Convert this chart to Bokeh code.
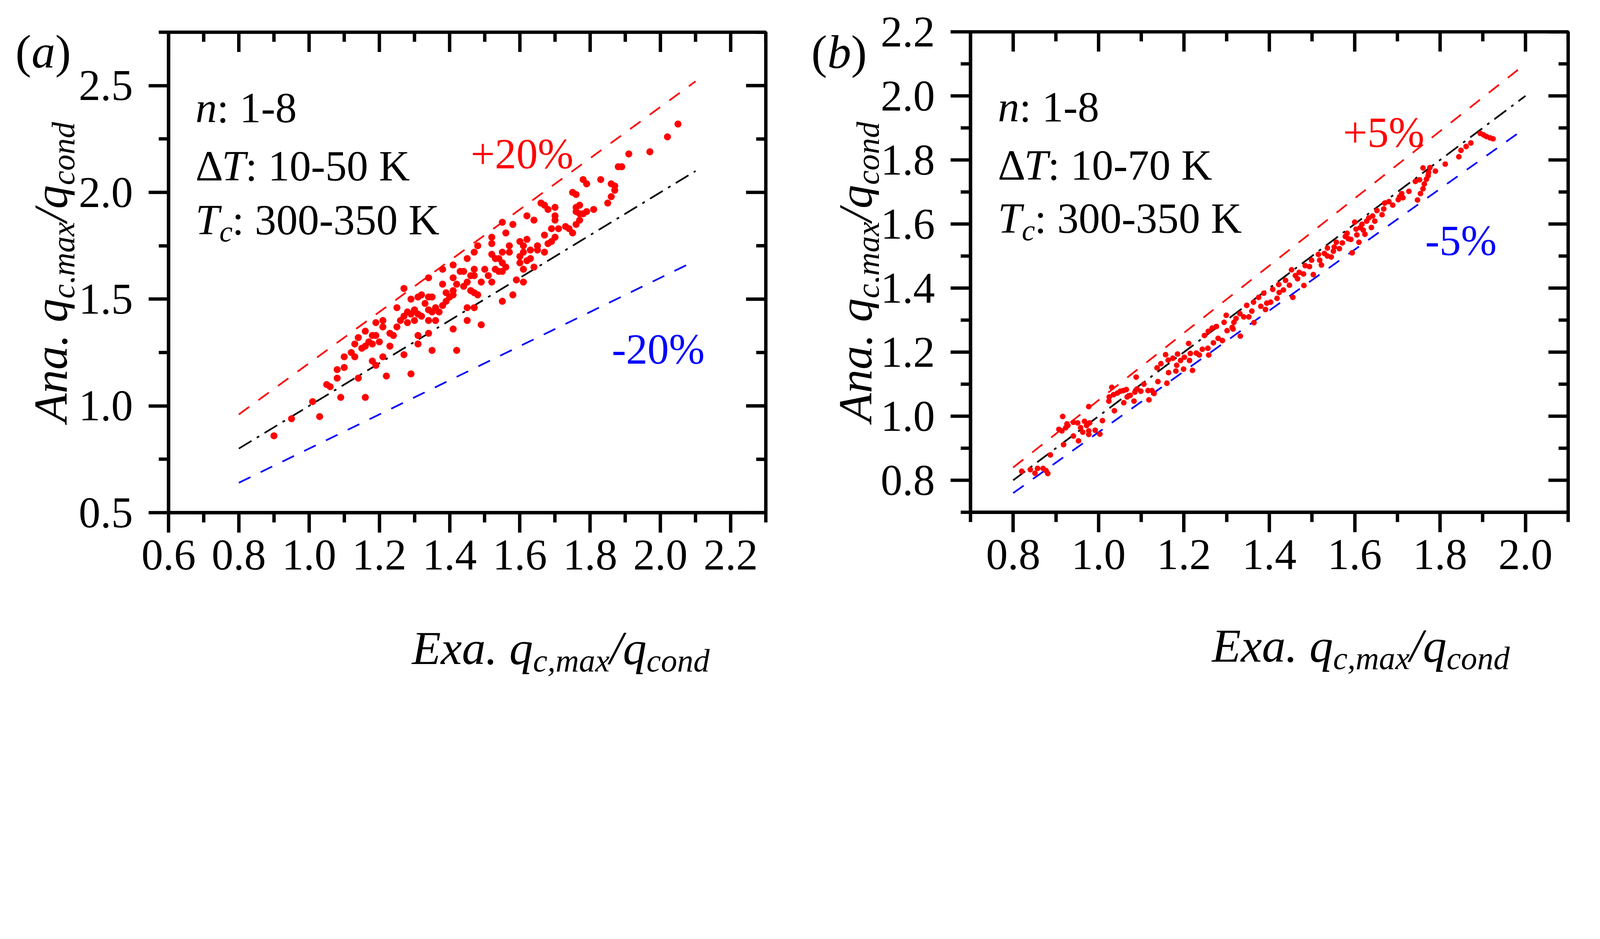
import math
from bokeh.plotting import figure
from bokeh.models import Label, FixedTicker, PrintfTickFormatter, Range1d
from bokeh.layouts import row, column
from bokeh.embed import file_html
from bokeh.resources import INLINE

FONT = "Liberation Serif"

# ---------------- data: panel (a) ----------------
a_exa = [0.90, 0.95, 1.03, 1.01, 1.09, 1.16, 1.05, 1.06, 1.08, 1.08,
         1.10, 1.14, 1.10, 1.12, 1.13, 1.13, 1.15, 1.14, 1.16, 1.18,
         1.19, 1.17, 1.18, 1.20, 1.16, 1.19, 1.21, 1.21, 1.23, 1.23,
         1.24, 1.18, 1.21, 1.19, 1.22, 1.27, 1.29, 1.31, 1.31, 1.34,
         1.35, 1.42, 1.25, 1.25, 1.27, 1.29, 1.26, 1.28, 1.29, 1.30,
         1.31, 1.30, 1.28, 1.27, 1.31, 1.32, 1.34, 1.35, 1.33, 1.34,
         1.35, 1.36, 1.34, 1.32, 1.34, 1.38, 1.41, 1.41, 1.38, 1.39,
         1.41, 1.41, 1.40, 1.39, 1.38, 1.37, 1.36, 1.41, 1.45, 1.45,
         1.47, 1.49, 1.42, 1.43, 1.44, 1.46, 1.47, 1.47, 1.45, 1.44,
         1.46, 1.47, 1.48, 1.50, 1.49, 1.52, 1.51, 1.53, 1.54, 1.55,
         1.53, 1.52, 1.45, 1.47, 1.48, 1.52, 1.52, 1.55, 1.58, 1.56,
         1.57, 1.57, 1.55, 1.54, 1.55, 1.56, 1.55, 1.58, 1.59, 1.61,
         1.60, 1.62, 1.61, 1.61, 1.60, 1.62, 1.63, 1.63, 1.65, 1.65,
         1.67, 1.62, 1.64, 1.60, 1.61, 1.64, 1.67, 1.68, 1.69, 1.70,
         1.70, 1.70, 1.69, 1.66, 1.67, 1.68, 1.70, 1.71, 1.73, 1.74,
         1.75, 1.76, 1.76, 1.77, 1.77, 1.78, 1.79, 1.76, 1.77, 1.75,
         1.76, 1.78, 1.79, 1.81, 1.83, 1.85, 1.86, 1.86, 1.87, 1.87,
         1.88, 1.89, 1.91, 1.97, 2.02, 2.05]
a_ana = [0.86, 0.94, 0.95, 1.02, 1.04, 1.04, 1.10, 1.09, 1.13, 1.17,
         1.18, 1.13, 1.23, 1.25, 1.23, 1.29, 1.27, 1.32, 1.35, 1.33,
         1.33, 1.30, 1.29, 1.30, 1.28, 1.39, 1.40, 1.37, 1.28, 1.34,
         1.33, 1.21, 1.23, 1.19, 1.14, 1.24, 1.15, 1.29, 1.33, 1.34,
         1.26, 1.26, 1.37, 1.46, 1.55, 1.50, 1.40, 1.44, 1.43, 1.45,
         1.43, 1.40, 1.39, 1.42, 1.51, 1.52, 1.51, 1.51, 1.48, 1.45,
         1.44, 1.40, 1.40, 1.42, 1.60, 1.64, 1.66, 1.60, 1.57, 1.53,
         1.54, 1.52, 1.51, 1.49, 1.47, 1.44, 1.46, 1.36, 1.40, 1.46,
         1.46, 1.38, 1.57, 1.63, 1.63, 1.61, 1.64, 1.61, 1.58, 1.56,
         1.54, 1.53, 1.52, 1.64, 1.58, 1.58, 1.61, 1.64, 1.63, 1.63,
         1.69, 1.71, 1.69, 1.72, 1.75, 1.76, 1.79, 1.86, 1.85, 1.81,
         1.75, 1.72, 1.72, 1.69, 1.67, 1.65, 1.49, 1.52, 1.59, 1.58,
         1.77, 1.78, 1.75, 1.72, 1.70, 1.68, 1.69, 1.73, 1.75, 1.73,
         1.72, 1.89, 1.87, 1.67, 1.64, 1.65, 1.80, 1.76, 1.83, 1.89,
         1.87, 1.79, 1.77, 1.95, 1.94, 1.92, 1.93, 1.83, 1.84, 1.83,
         1.81, 1.91, 1.93, 1.94, 1.90, 1.90, 1.91, 1.85, 1.87, 2.00,
         1.99, 2.06, 2.04, 1.92, 2.06, 1.95, 1.98, 2.04, 2.01, 2.03,
         2.12, 2.12, 2.18, 2.19, 2.26, 2.32]

# reference lines (a): y = x, +20 %, -20 %
a_line_x = [0.8, 2.1]
a_line_mid = [0.8, 2.1]
a_line_plus = [0.96, 2.52]
a_line_minus = [0.64, 1.68]

# ---------------- data: panel (b) ----------------
b_exa = [0.820, 0.840, 0.851, 0.857, 0.870, 0.877, 0.881, 0.887, 0.918, 0.953,
         0.941, 0.916, 0.907, 0.914, 0.923, 0.928, 0.926, 0.941, 0.951, 0.958,
         0.963, 0.967, 0.972, 0.979, 0.977, 0.977, 0.992, 1.003, 1.009, 0.977,
         1.037, 1.031, 1.025, 1.024, 1.035, 1.044, 1.051, 1.058, 1.065, 1.059,
         1.067, 1.074, 1.083, 1.085, 1.088, 1.090, 1.099, 1.106, 1.116, 1.118,
         1.125, 1.130, 1.139, 1.160, 1.137, 1.146, 1.157, 1.164, 1.163, 1.174,
         1.181, 1.183, 1.185, 1.192, 1.199, 1.201, 1.211, 1.213, 1.215, 1.220,
         1.229, 1.236, 1.243, 1.256, 1.258, 1.269, 1.280, 1.290, 1.248, 1.257,
         1.266, 1.276, 1.299, 1.294, 1.301, 1.313, 1.317, 1.315, 1.322, 1.331,
         1.332, 1.340, 1.352, 1.347, 1.359, 1.364, 1.363, 1.375, 1.380, 1.391,
         1.394, 1.403, 1.387, 1.408, 1.418, 1.423, 1.422, 1.433, 1.438, 1.447,
         1.452, 1.455, 1.461, 1.466, 1.470, 1.480, 1.481, 1.484, 1.499, 1.494,
         1.503, 1.515, 1.518, 1.522, 1.529, 1.536, 1.545, 1.536, 1.550, 1.552,
         1.557, 1.564, 1.571, 1.578, 1.582, 1.585, 1.591, 1.594, 1.600, 1.603,
         1.605, 1.610, 1.613, 1.617, 1.620, 1.624, 1.628, 1.633, 1.639, 1.642,
         1.647, 1.652, 1.664, 1.668, 1.670, 1.680, 1.689, 1.702, 1.705, 1.710,
         1.713, 1.727, 1.747, 1.754, 1.760, 1.763, 1.742, 1.752, 1.768, 1.772,
         1.773, 1.760, 1.776, 1.789, 1.812, 1.844, 1.849, 1.861, 1.872, 1.894,
         1.902, 1.909, 1.917, 1.924]
b_ana = [0.828, 0.833, 0.822, 0.837, 0.837, 0.830, 0.821, 0.879, 0.911, 0.923,
         0.938, 0.999, 0.959, 0.954, 0.964, 0.971, 0.976, 0.981, 0.979, 0.964,
         0.950, 0.984, 0.971, 0.979, 0.954, 0.943, 0.956, 0.944, 0.986, 1.030,
         1.017, 1.090, 1.060, 1.047, 1.067, 1.072, 1.078, 1.080, 1.083, 1.042,
         1.060, 1.065, 1.047, 1.075, 1.122, 1.085, 1.078, 1.100, 1.080, 1.051,
         1.080, 1.071, 1.108, 1.103, 1.151, 1.164, 1.192, 1.136, 1.175, 1.181,
         1.141, 1.159, 1.194, 1.174, 1.147, 1.184, 1.227, 1.174, 1.196, 1.143,
         1.197, 1.191, 1.209, 1.212, 1.191, 1.229, 1.243, 1.236, 1.252, 1.265,
         1.275, 1.280, 1.315, 1.293, 1.267, 1.277, 1.293, 1.272, 1.305, 1.320,
         1.250, 1.310, 1.310, 1.346, 1.328, 1.292, 1.356, 1.371, 1.343, 1.333,
         1.353, 1.356, 1.384, 1.396, 1.368, 1.386, 1.411, 1.394, 1.424, 1.409,
         1.457, 1.371, 1.439, 1.429, 1.449, 1.444, 1.408, 1.470, 1.487, 1.467,
         1.442, 1.505, 1.487, 1.472, 1.508, 1.500, 1.497, 1.525, 1.515, 1.528,
         1.543, 1.523, 1.541, 1.561, 1.571, 1.554, 1.552, 1.510, 1.606, 1.584,
         1.566, 1.543, 1.589, 1.599, 1.581, 1.568, 1.609, 1.619, 1.589, 1.625,
         1.609, 1.642, 1.629, 1.647, 1.665, 1.670, 1.659, 1.676, 1.685, 1.695,
         1.682, 1.702, 1.675, 1.695, 1.710, 1.725, 1.733, 1.738, 1.740, 1.751,
         1.761, 1.775, 1.776, 1.765, 1.787, 1.810, 1.830, 1.842, 1.853, 1.883,
         1.878, 1.873, 1.869, 1.866]

# reference lines (b): y = x, +5 %, -5 %
b_line_x = [0.8, 2.0]
b_line_mid = [0.8, 2.0]
b_line_plus = [0.84, 2.10]
b_line_minus = [0.76, 1.90]

# ---------------- ticks ----------------
a_xrange = (0.6, 2.3)
a_yrange = (0.5, 2.75)
b_xrange = (0.7, 2.1)
b_yrange = (0.7, 2.2)
a_xticks = [0.6, 0.8, 1.0, 1.2, 1.4, 1.6, 1.8, 2.0, 2.2]
a_xminor = [0.7, 0.9, 1.1, 1.3, 1.5, 1.7, 1.9, 2.1, 2.3]
a_yticks = [0.5, 1.0, 1.5, 2.0, 2.5]
a_yminor = [0.75, 1.25, 1.75, 2.25, 2.75]
b_xticks = [0.8, 1.0, 1.2, 1.4, 1.6, 1.8, 2.0]
b_xminor = [0.7, 0.9, 1.1, 1.3, 1.5, 1.7, 1.9, 2.1]
b_yticks = [0.8, 1.0, 1.2, 1.4, 1.6, 1.8, 2.0, 2.2]
b_yminor = [0.7, 0.9, 1.1, 1.3, 1.5, 1.7, 1.9, 2.1]

# ---------------- text ----------------
a_info = [("n", "1-8"), ("T", "10-50 K"), ("T", "300-350 K")]
b_info = [("n", "1-8"), ("T", "10-70 K"), ("T", "300-350 K")]
a_pct = ["+20%", "-20%"]
b_pct = ["+5%", "-5%"]
title_x = [("Exa. q", False), ("c,max", True), ("/", False), ("q", False), ("cond", True)]
title_y = [("Ana. q", False), ("c,max", True), ("/", False), ("q", False), ("cond", True)]

# ---------------- geometry (reference pixels -> css pixels) ----------------
K = 4096.0 / 5669.0          # css px per reference px
M = 8.0 / K                  # page margin in reference px


def c(v):
    return (v - M) * K


def r(v):
    return int(round(c(v)))


def s(v):
    return v * K


def si(v):
    return int(round(v * K))


ITW = {'A': 611, 'E': 611, 'n': 500, 'a': 500, 'x': 444, '.': 250, ' ': 250, 'q': 500,
       'c': 444, ',': 250, 'm': 722, '/': 278, 'o': 500, 'd': 500, 'T': 556}

TITLE_F = 168
TITLE_S = 115
SUB_DY = 45
TICK_F = 154
ANN_F = 152
ANN_SUB = 105
LET_F = 168
LW = 12
TICK_OUT = 70
MINOR_OUT = 34


def tw(txt, size):
    return sum(ITW.get(ch, 500) for ch in txt) / 1000.0 * size


def lab(p, org, rx, ry, text, size, color="black", style="normal", angle=0.0):
    # org = (left_css, bottom_css) of the frame the label is anchored to
    p.add_layout(Label(x=c(rx) - org[0], y=org[1] - c(ry), x_units="screen", y_units="screen",
                       text=text, text_font=FONT, text_font_size=f"{s(size):.1f}px",
                       text_font_style=style, text_color=color,
                       text_baseline="alphabetic", text_align="left", angle=angle))


def style_axis(ax, ticks, minor, standoff):
    ax.ticker = FixedTicker(ticks=ticks, minor_ticks=minor)
    ax.axis_line_width = s(LW)
    ax.axis_line_color = "black"
    ax.major_tick_line_width = s(LW)
    ax.minor_tick_line_width = s(LW)
    ax.major_tick_line_color = "black"
    ax.minor_tick_line_color = "black"
    ax.axis_label = None
    ax.major_tick_in = 0
    ax.major_tick_out = si(TICK_OUT)
    ax.minor_tick_in = 0
    ax.minor_tick_out = si(MINOR_OUT)
    ax.formatter = PrintfTickFormatter(format="%.1f")
    ax.major_label_text_font = FONT
    ax.major_label_text_font_size = f"{s(TICK_F):.1f}px"
    ax.major_label_text_color = "black"
    ax.major_label_standoff = si(standoff)


def text_fig(w, h):
    f = figure(width=w, height=h, x_range=Range1d(0, w), y_range=Range1d(0, h),
               x_axis_type=None, y_axis_type=None, toolbar_location=None,
               output_backend="svg", min_border=0, title=None)
    f.outline_line_color = None
    f.background_fill_color = "white"
    f.border_fill_color = "white"
    return f


def main_fig(x0, x1, y1, fl, fr_, ft, fb, xr, yr, xt, xm, yt, ym):
    p = figure(frame_width=fr_ - fl, frame_height=fb - ft,
               x_range=Range1d(*xr), y_range=Range1d(*yr),
               output_backend="svg", toolbar_location=None, title=None,
               min_border_left=fl - x0, min_border_right=x1 - fr_,
               min_border_top=ft, min_border_bottom=y1 - fb)
    p.grid.visible = False
    p.outline_line_color = "black"
    p.outline_line_width = s(LW)
    p.background_fill_color = "white"
    p.border_fill_color = "white"
    style_axis(p.xaxis[0], xt, xm, 27)
    style_axis(p.yaxis[0], yt, ym, 55)
    # inward ticks on the top and right frame edges
    for ticks, ln in ((xt, TICK_OUT), (xm, MINOR_OUT)):
        p.ray(x=ticks, y=[yr[1]] * len(ticks), length=s(ln), angle=-math.pi / 2,
              length_units="screen", line_color="black", line_width=s(LW))
    for ticks, ln in ((yt, TICK_OUT), (ym, MINOR_OUT)):
        p.ray(x=[xr[1]] * len(ticks), y=ticks, length=s(ln), angle=math.pi,
              length_units="screen", line_color="black", line_width=s(LW))
    return p


def add_data(p, xs, ys, dot, lx, lmid, lplus, lminus):
    p.line(lx, lplus, line_color="red", line_width=s(6), line_dash="33 29")
    p.line(lx, lminus, line_color="blue", line_width=s(6), line_dash="33 29")
    p.line(lx, lmid, line_color="black", line_width=s(6), line_dash="38 16 7 16")
    p.scatter(xs, ys, size=s(dot), fill_color="red", line_color=None, marker="circle")


def add_info(p, org, x0, bases, info, pct, pct_pos):
    b1, b2, b3 = bases
    lab(p, org, x0, b1, info[0][0], ANN_F, style="italic")
    lab(p, org, x0 + 76, b1, ": " + info[0][1], ANN_F)
    lab(p, org, x0, b2, "\u0394", ANN_F)
    lab(p, org, x0 + 93, b2, info[1][0], ANN_F, style="italic")
    lab(p, org, x0 + 177, b2, ": " + info[1][1], ANN_F)
    lab(p, org, x0, b3, info[2][0], ANN_F, style="italic")
    lab(p, org, x0 + 85, b3 + 41, "c", ANN_SUB, style="italic")
    lab(p, org, x0 + 130, b3, ": " + info[2][1], ANN_F)
    (px_, pb_), (mx_, mb_) = pct_pos
    lab(p, org, px_, pb_, pct[0], ANN_F, color="red")
    lab(p, org, mx_, mb_, pct[1], ANN_F, color="blue")


def size_of(sub):
    return TITLE_S if sub else TITLE_F


def add_xtitle(p, org, cx, base):
    total = sum(tw(t, size_of(sb)) for t, sb in title_x)
    x = cx - total / 2
    for t, sb in title_x:
        lab(p, org, x, base + (SUB_DY if sb else 0), t, size_of(sb), style="italic")
        x += tw(t, size_of(sb))


def add_ytitle(p, org, cy, base):
    total = sum(tw(t, size_of(sb)) for t, sb in title_y)
    y = cy + total / 2
    for t, sb in title_y:
        lab(p, org, base + (SUB_DY if sb else 0), y, t, size_of(sb), style="italic",
            angle=math.pi / 2)
        y -= tw(t, size_of(sb))


def add_letter(p, org, x0, base, letter):
    lab(p, org, x0, base, "(", LET_F)
    lab(p, org, x0 + 57, base, letter, LET_F, style="italic")
    lab(p, org, x0 + 141, base, ")", LET_F)


# reference-pixel cut lines
X_ASPLIT, X_AFL, X_AFR, X_MID = 275, 607, 2724, 2841
X_BSPLIT, X_BFL, X_BFR, X_END = 3125, 3449, 5567, 5658
Y_AFT, Y_AFB, Y_BFT, Y_BFB, Y_SPLIT = 124, 1827, 123, 1825, 2150

xa0, xa1, xafl, xafr, xmid = 0, r(X_ASPLIT), r(X_AFL), r(X_AFR), r(X_MID)
xb1, xbfl, xbfr, xend = r(X_BSPLIT), r(X_BFL), r(X_BFR), r(X_END)
yaft, yafb, ybft, ybfb, ysplit = r(Y_AFT), r(Y_AFB), r(Y_BFT), r(Y_BFB), r(Y_SPLIT)
yend = 1760   # css height of the whole layout (room below the axis titles)

# ---------------- panel (a) ----------------
ya = text_fig(xa1 - xa0, yend)
add_letter(ya, (xa0, yend), 65, 193, "a")
add_ytitle(ya, (xa0, yend), 975, 190)

ma = main_fig(xa1, xmid, ysplit, xafl, xafr, yaft, yafb,
              a_xrange, a_yrange, a_xticks, a_xminor, a_yticks, a_yminor)
add_data(ma, a_exa, a_ana, 25, a_line_x, a_line_mid, a_line_plus, a_line_minus)
add_info(ma, (xafl, yafb), 703, (392, 599, 789), a_info, a_pct, ((1678, 556), (2178, 1248)))

xa = text_fig(xmid - xa1, yend - ysplit)
add_xtitle(xa, (xa1, yend), 1665, 2306)

# ---------------- panel (b) ----------------
yb = text_fig(xb1 - xmid, yend)
add_letter(yb, (xmid, yend), 2885, 195, "b")
add_ytitle(yb, (xmid, yend), 974, 3041)

mb = main_fig(xb1, xend, ysplit, xbfl, xbfr, ybft, ybfb,
              b_xrange, b_yrange, b_xticks, b_xminor, b_yticks, b_yminor)
add_data(mb, b_exa, b_ana, 20, b_line_x, b_line_mid, b_line_plus, b_line_minus)
add_info(mb, (xbfl, ybfb), 3546, (389, 596, 784), b_info, b_pct, ((4769, 480), (5060, 863)))

xb = text_fig(xend - xb1, yend - ysplit)
add_xtitle(xb, (xb1, yend), 4508, 2298)

layout = row(ya, column(ma, xa), yb, column(mb, xb))
open("out.html", "w").write(file_html(layout, INLINE))
